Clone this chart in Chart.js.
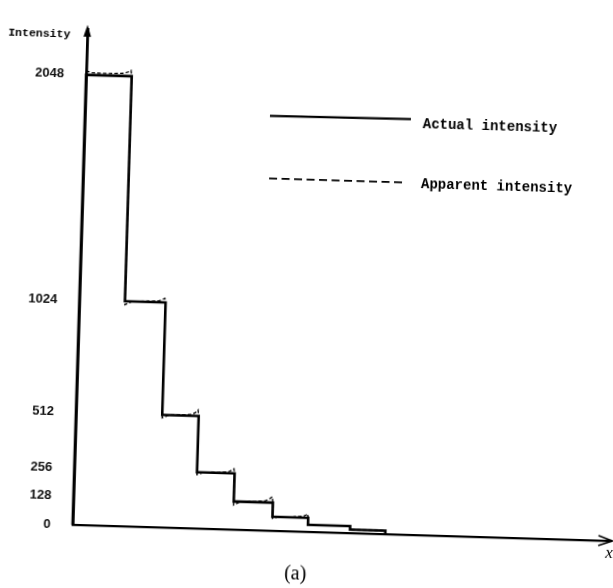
<!DOCTYPE html>
<html>
<head>
<meta charset="utf-8">
<script src="https://cdn.jsdelivr.net/npm/chart.js@4.4.1/dist/chart.umd.min.js"></script>
<style>
html,body{margin:0;padding:0;background:#fff;overflow:hidden;width:613px;height:588px;}
#wrap{position:absolute;left:0;top:0;width:650px;height:610px;transform-origin:88px 12px;transform:rotate(1.72deg);}
canvas{display:block;}
</style>
</head>
<body>
<div id="wrap"><canvas id="c" width="650" height="610"></canvas></div>
<script>
// ---- data ----
const yTickValues = [0, 128, 256, 512, 1024, 2048];
const yTickLabels = ['0', '128', '256', '512', '1024', '2048'];
const stepEdges = [0, 1.2, 2.27, 3.23, 4.22, 5.25, 6.19, 7.3, 8.23];
const actualLevels = [2048, 1024, 512, 256, 128, 64, 32, 16];
const apparentX = [0, 0.15, 0.6, 1.0, 1.13, 1.18, 1.2,
                   1.2, 1.4, 1.8, 2.1, 2.2, 2.25, 2.27,
                   2.27, 2.45, 2.8, 3.05, 3.17, 3.21, 3.23,
                   3.23, 3.42, 3.8, 4.05, 4.15, 4.2, 4.22,
                   4.22, 4.4, 4.8, 5.05, 5.17, 5.23, 5.25,
                   5.25, 5.42, 5.8, 6.05, 6.13, 6.17, 6.19,
                   6.19, 7.3, 7.3, 8.23, 8.23];
const apparentY = [2066, 2058, 2057, 2060, 2068, 2074, 2048,
                   1008, 1024, 1027, 1030, 1038, 1042, 1024,
                   498, 512, 515, 518, 530, 539, 512,
                   245, 256, 258, 261, 270, 277, 256,
                   112, 128, 131, 135, 146, 155, 128,
                   56, 64, 66, 70, 76, 82, 64,
                   32, 32, 16, 16, 0];
const seriesLabels = ['Actual intensity', 'Apparent intensity'];
const yAxisTitle = 'Intensity';
const xAxisTitle = 'x';
const caption = '(a)';
const X_MAX = 14.05;
const Y_MAX = 2253;

// ---- build point lists from the arrays ----
const actualPts = [{x: stepEdges[0], y: 0}];
actualLevels.forEach((v, i) => {
  actualPts.push({x: stepEdges[i], y: v});
  actualPts.push({x: stepEdges[i + 1], y: v});
});
actualPts.push({x: stepEdges[stepEdges.length - 1], y: 0});
const apparentPts = apparentX.map((x, i) => ({x: x, y: apparentY[i]}));

const MONO = "'Liberation Mono', 'DejaVu Sans Mono', monospace";
const SERIF = "'Liberation Serif', 'DejaVu Serif', serif";

const decor = {
  id: 'decor',
  beforeDraw(chart) {
    const ctx = chart.ctx;
    ctx.save();
    ctx.fillStyle = '#fff';
    ctx.fillRect(0, 0, chart.width, chart.height);
    ctx.restore();
  },
  afterDraw(chart) {
    const ctx = chart.ctx;
    const {left, right, top} = chart.chartArea;
    const xs = chart.scales.x, ys = chart.scales.y;
    const ax = xs.getPixelForValue(0);
    const ay = ys.getPixelForValue(0);
    ctx.save();
    ctx.fillStyle = '#000';
    ctx.strokeStyle = '#000';
    // y arrow head
    ctx.beginPath();
    ctx.moveTo(ax, top - 5);
    ctx.lineTo(ax - 3.8, top + 7);
    ctx.lineTo(ax + 3.8, top + 7);
    ctx.closePath();
    ctx.fill();
    // x axis extension and open arrow head
    ctx.lineWidth = 2.2;
    ctx.beginPath();
    ctx.moveTo(right - 1, ay);
    ctx.lineTo(right + 6, ay);
    ctx.stroke();
    ctx.lineWidth = 1.6;
    ctx.beginPath();
    ctx.moveTo(right - 8, ay - 5);
    ctx.lineTo(right + 6, ay);
    ctx.lineTo(right - 8, ay + 5);
    ctx.stroke();

    // axis titles
    ctx.font = 'bold 11.5px ' + MONO;
    ctx.textAlign = 'center';
    ctx.textBaseline = 'alphabetic';
    ctx.fillText(yAxisTitle, left - 48, top + 8);
    ctx.font = 'italic 17px ' + SERIF;
    ctx.fillText(xAxisTitle, right + 3, ay + 17);
    ctx.font = '20px ' + SERIF;
    ctx.fillText(caption, left + 224, ay + 48);

    // legend
    const lx0 = left + 185, lx1 = left + 326;
    ctx.lineWidth = 2.2;
    ctx.setLineDash([]);
    ctx.beginPath();
    ctx.moveTo(lx0, top + 80.5);
    ctx.lineTo(lx1, top + 79.5);
    ctx.stroke();
    ctx.lineWidth = 1.7;
    ctx.setLineDash([8, 4.5]);
    ctx.beginPath();
    ctx.moveTo(lx0 + 1, top + 143);
    ctx.lineTo(lx1 - 3, top + 143);
    ctx.stroke();
    ctx.setLineDash([]);
    ctx.font = 'bold 14px ' + MONO;
    ctx.textAlign = 'left';
    ctx.fillText(chart.data.datasets[0].label, left + 338, top + 88.5);
    ctx.fillText(chart.data.datasets[1].label, left + 338, top + 148);
    ctx.restore();
  }
};

new Chart(document.getElementById('c'), {
  type: 'line',
  data: {
    datasets: [
      {label: seriesLabels[0], data: actualPts, borderColor: '#000', borderWidth: 2.6,
       pointRadius: 0, tension: 0, fill: false, clip: false, order: 2},
      {label: seriesLabels[1], data: apparentPts, borderColor: '#000', borderWidth: 1.3,
       borderDash: [3.5, 2.2], pointRadius: 0, tension: 0, fill: false, clip: false, order: 1}
    ]
  },
  options: {
    responsive: false,
    animation: false,
    devicePixelRatio: 1,
    layout: {padding: {top: 17, right: 28, bottom: 0, left: 0}},
    plugins: {legend: {display: false}, tooltip: {enabled: false}},
    scales: {
      x: {
        type: 'linear', min: 0, max: X_MAX,
        ticks: {display: false},
        grid: {display: false, drawTicks: false},
        border: {display: true, color: '#000', width: 2.2},
        afterFit(s) { s.height = 85; }
      },
      y: {
        type: 'linear', min: 0, max: Y_MAX,
        afterBuildTicks(s) { s.ticks = yTickValues.map(v => ({value: v})); },
        ticks: {
          autoSkip: false, padding: 22, color: '#111',
          font: {family: "'Liberation Sans', Arial, sans-serif", size: 13, weight: 'bold'},
          callback(value) {
            const i = yTickValues.indexOf(value);
            return i >= 0 ? yTickLabels[i] : '';
          }
        },
        grid: {display: false, drawTicks: false},
        border: {display: true, color: '#000', width: 2.8},
        afterFit(s) { s.width = 88; }
      }
    }
  },
  plugins: [decor]
});
</script>
</body>
</html>
